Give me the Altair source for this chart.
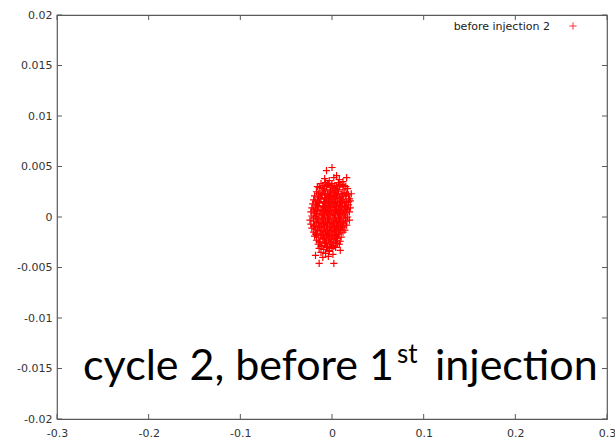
import altair as alt
import pandas as pd

# ---- data ----
# cloud of samples: x in units of 1e-3, y in units of 1e-4
x_milli = [
    -6, 0, 5, 16, -16, 21,
    -8, -3, 2, 8, 12,
    -12, -7, -4, 0, 3, 7, 11, 15,
    -14, -10, -6, -2, 1, 4, 8, 12, 17,
    -17, -13, -9, -5, -2, 1, 4, 7, 10, 14, 18,
    -19, -15, -11, -8, -4, -1, 2, 5, 8, 11, 15, 19,
    -20, -16, -12, -9, -6, -3, 0, 3, 6, 9, 12, 16, 20,
    -21, -17, -14, -10, -7, -4, -1, 2, 5, 8, 11, 14, 18,
    -22, -18, -15, -11, -8, -5, -2, 1, 4, 7, 10, 13, 17, 20,
    -23, -19, -16, -12, -9, -6, -3, 0, 3, 6, 9, 12, 15, 19,
    -22, -18, -14, -11, -8, -5, -2, 1, 4, 7, 10, 13, 17,
    -24, -20, -16, -13, -10, -7, -4, -1, 2, 5, 8, 11, 15, 19,
    -23, -19, -15, -12, -9, -6, -3, 0, 3, 6, 9, 12, 16,
    -22, -18, -14, -11, -8, -5, -2, 1, 4, 7, 10, 14,
    -20, -17, -13, -10, -7, -4, -1, 2, 5, 8, 12,
    -19, -15, -12, -9, -6, -3, 0, 3, 6, 10,
    -17, -14, -10, -7, -4, -1, 2, 5, 9,
    -15, -11, -8, -5, -2, 1, 4, 8,
    -14, -9, -6, -3, 0, 4,
    -12, -7, -3, 1,
    -10, -4,
    -14, 2, -18, 9,
    -13, -7, -2, 4, 10,
    -16, -9, -3, 3, 9, 15,
    -17, -10, -4, 2, 8, 14,
    -17, -11, -5, 1, 7, 13,
    -16, -9, -3, 3, 9,
    -8, -1, 6,
    -8, -2, 4,
    -10, -5, -1, 5, 9, 13,
    -15, -11, -7, -3, 3, 6, 12, 16,
    -18, -14, -8, -4, 1, 4, 10, 14, 18,
    -20, -13, -7, -1, 5, 11, 16,
    -20, -15, -9, -3, 3, 9, 15,
    -20, -14, -8, -1, 5, 11,
    -18, -12, -5, 0, 7,
    -13, -6, 0, 6,
    -12, -3, 2,
]
y_tenth_milli = [
    46, 49, 41, 39, 30, 23,
    38, 36, 39, 37, 35,
    33, 34, 32, 33, 31, 34, 32, 30,
    29, 28, 30, 27, 29, 28, 30, 27, 28,
    25, 24, 26, 23, 25, 24, 26, 25, 23, 24, 22,
    21, 20, 22, 19, 21, 20, 22, 21, 19, 20, 21, 18,
    17, 16, 18, 15, 17, 16, 18, 17, 15, 16, 17, 15, 16,
    13, 12, 14, 11, 13, 12, 14, 13, 11, 12, 13, 11, 12,
    9, 8, 10, 7, 9, 8, 10, 9, 7, 8, 9, 7, 8, 9,
    5, 4, 6, 3, 5, 4, 6, 5, 3, 4, 5, 3, 4, 5,
    1, 0, 2, -1, 1, 0, 2, 1, -1, 0, 1, -1, 0,
    -3, -4, -2, -5, -3, -4, -2, -3, -5, -4, -3, -5, -4, -3,
    -7, -8, -6, -9, -7, -8, -6, -7, -9, -8, -7, -9, -8,
    -11, -12, -10, -13, -11, -12, -10, -11, -13, -12, -11, -13,
    -15, -16, -14, -17, -15, -16, -14, -15, -17, -16, -15,
    -19, -20, -18, -21, -19, -20, -18, -19, -21, -20,
    -23, -24, -22, -25, -23, -24, -22, -23, -24,
    -27, -28, -26, -29, -27, -28, -26, -27,
    -31, -32, -30, -33, -31, -30,
    -35, -36, -34, -37,
    -40, -39,
    -46, -46, -38, -33,
    19, 18, 20, 19, 18,
    11, 10, 11, 10, 11, 10,
    3, 2, 3, 2, 3, 2,
    -5, -6, -5, -6, -5, -6,
    -13, -14, -13, -14, -13,
    27, 26, 27,
    -21, -22, -21,
    31, 32, 31, 30, 32, 31,
    23, 22, 23, 22, 24, 23, 22, 23,
    15, 14, 15, 14, 15, 14, 15, 14, 15,
    7, 6, 7, 6, 7, 6, 7,
    -1, -2, -1, -2, -1, -2, -1,
    -9, -10, -9, -10, -9, -10,
    -17, -18, -17, -18, -17,
    -25, -26, -25, -26,
    -29, -30, -29,
]
x_ticks = [-0.3, -0.2, -0.1, 0.0, 0.1, 0.2, 0.3]
y_ticks = [-0.02, -0.015, -0.01, -0.005, 0.0, 0.005, 0.01, 0.015, 0.02]
series_name = "before injection 2"
caption_main = "cycle 2, before 1"
caption_sup = "st"
caption_tail = "injec\u200ction"  # zero-width non-joiner keeps "t" and "i" apart (no ligature)

# ---- build ----
W, H = 550, 404
RED = "#ff0000"
FRAME = "#5a5a5a"
PLUS = "M-1,0H1M0,-1V1"
TICK_FONT = "DejaVu Sans"
CAP_FONT = "Lato"

cloud = pd.DataFrame({
    "x": [v / 1000 for v in x_milli],
    "y": [v / 10000 for v in y_tenth_milli],
})
xt = pd.DataFrame({"x": x_ticks})
yt = pd.DataFrame({"y": y_ticks})

lab = "datum.value < 0 ? '-' + format(-datum.value, '~g') : format(datum.value, '~g')"
xscale = alt.Scale(domain=[-0.3, 0.3], nice=False, zero=False)
yscale = alt.Scale(domain=[-0.02, 0.02], nice=False, zero=False)
xaxis = alt.Axis(title=None, values=x_ticks, labelExpr=lab, domain=False, ticks=False,
                 grid=False, labelPadding=8, labelFlush=False)
yaxis = alt.Axis(title=None, values=y_ticks, labelExpr=lab, domain=False, ticks=False,
                 grid=False, labelPadding=5, labelFlush=False)

X = alt.X("x:Q", scale=xscale, axis=xaxis)
Y = alt.Y("y:Q", scale=yscale, axis=yaxis)

points = alt.Chart(cloud).mark_point(
    shape=PLUS, filled=False, size=52, strokeWidth=1.2, color=RED, opacity=1
).encode(x=X, y=Y)

tick_style = dict(color=FRAME, strokeWidth=1)
xt_bottom = alt.Chart(xt).mark_rule(**tick_style).encode(x=X, y=alt.value(H), y2=alt.value(H - 5))
xt_top = alt.Chart(xt).mark_rule(**tick_style).encode(x=X, y=alt.value(0), y2=alt.value(5))
yt_left = alt.Chart(yt).mark_rule(**tick_style).encode(y=Y, x=alt.value(0), x2=alt.value(5))
yt_right = alt.Chart(yt).mark_rule(**tick_style).encode(y=Y, x=alt.value(W), x2=alt.value(W - 5))

legend_df = pd.DataFrame({"label": [series_name]})
legend_text = alt.Chart(legend_df).mark_text(
    align="right", baseline="middle", font=TICK_FONT, fontSize=11, color="#222"
).encode(text="label:N", x=alt.value(493), y=alt.value(12))
legend_sym = alt.Chart(legend_df).mark_point(
    shape=PLUS, filled=False, size=52, strokeWidth=1, color=RED, opacity=0.8
).encode(x=alt.value(516), y=alt.value(11))

cap_df = pd.DataFrame({"a": [caption_main], "b": [caption_sup], "c": [caption_tail]})
cap1 = alt.Chart(cap_df).mark_text(
    align="right", baseline="alphabetic", font=CAP_FONT, fontSize=43, color="#000"
).encode(text="a:N", x=alt.value(337), y=alt.value(365))
cap2 = alt.Chart(cap_df).mark_text(
    align="left", baseline="alphabetic", font=CAP_FONT, fontSize=26, color="#000"
).encode(text="b:N", x=alt.value(340), y=alt.value(348))
cap3 = alt.Chart(cap_df).mark_text(
    align="left", baseline="alphabetic", font=CAP_FONT, fontSize=43, color="#000"
).encode(text="c:N", x=alt.value(378), y=alt.value(365))

chart = alt.layer(
    points, xt_bottom, xt_top, yt_left, yt_right, legend_text, legend_sym, cap1, cap2, cap3
).properties(
    width=W, height=H,
    autosize=alt.AutoSizeParams(type="none"),
    padding={"left": 57, "top": 15, "right": 8, "bottom": 23},
    background="white",
).configure_view(
    stroke=FRAME, strokeWidth=1.2
).configure_axis(
    labelFont=TICK_FONT, labelFontSize=11, labelColor="#333"
)

chart.save("out.html", embed_options={"renderer": "svg", "actions": False})
